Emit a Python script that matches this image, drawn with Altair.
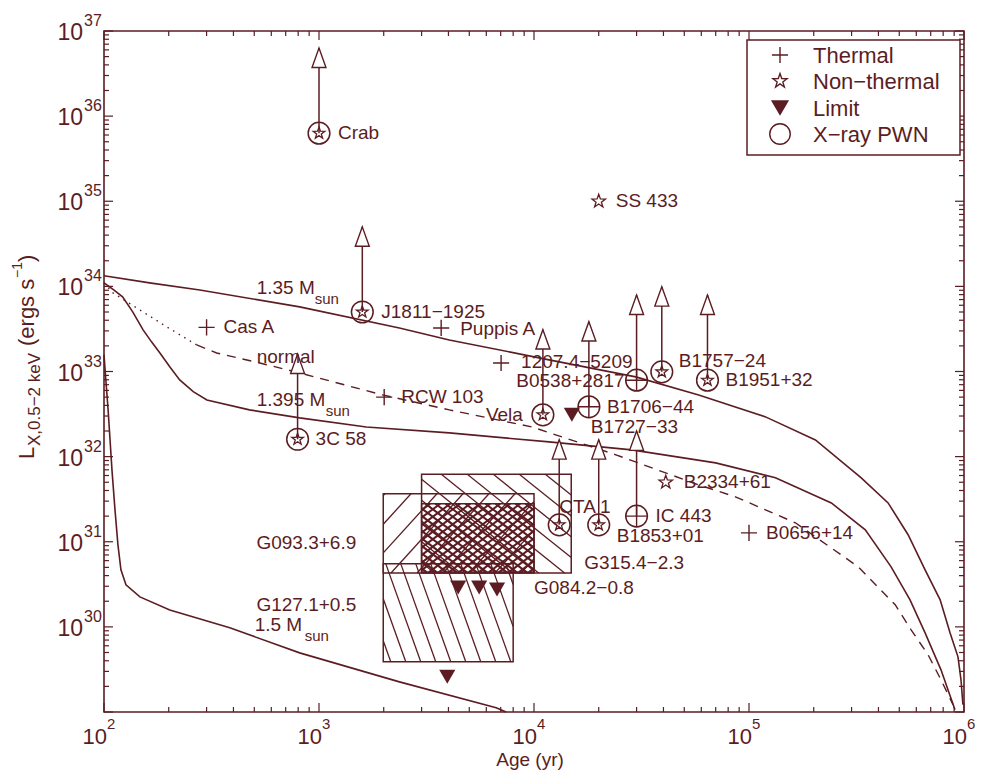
import altair as alt
import pandas as pd
import numpy as np

# ------------------------------------------------------------------ data
src_names = ["Crab", "SS 433", "J1811−1925", "Cas A", "Puppis A", "1207.4−5209",
             "RCW 103", "3C 58", "Vela", "B1706−44", "B0538+2817", "B1757−24",
             "B1951+32", "CTA 1", "B1853+01", "IC 443", "B2334+61", "B0656+14"]
src_age = [1000, 2.0e4, 1590, 300, 3700, 7030, 2010, 795, 1.10e4, 1.80e4, 3.0e4,
           3.93e4, 6.41e4, 1.31e4, 2.0e4, 3.0e4, 4.10e4, 1.0e5]
src_lum = [6.3e35, 1.0e35, 5.0e33, 3.3e33, 3.25e33, 1.26e33, 5.0e32, 1.6e32, 3.1e32,
           3.85e32, 7.9e32, 9.9e32, 7.9e32, 1.58e31, 1.58e31, 2.0e31, 5.0e31, 1.27e31]
src_kind = ["Non-thermal", "Non-thermal", "Non-thermal", "Thermal", "Thermal", "Thermal",
            "Thermal", "Non-thermal", "Non-thermal", "Thermal", "Thermal", "Non-thermal",
            "Non-thermal", "Non-thermal", "Non-thermal", "Thermal", "Non-thermal", "Thermal"]
src_pwn = [1, 0, 1, 0, 0, 0, 0, 1, 1, 1, 1, 1, 1, 1, 1, 1, 0, 0]

lim_names = ["B1727−33", "", "", "", ""]
lim_age = [1.50e4, 4440, 5560, 6730, 3950]
lim_lum = [3.1e32, 2.9e30, 2.9e30, 2.75e30, 2.6e29]

box_names = ["G315.4−2.3", "G093.3+6.9", "G127.1+0.5", "G084.2−0.8"]
box_age0 = [3000, 1990, 1990, 3000]
box_age1 = [1.49e4, 1.0e4, 8000, 1.0e4]
box_lum0 = [4.3e30, 4.3e30, 3.9e29, 4.4e30]
box_lum1 = [6.2e31, 3.66e31, 5.5e30, 2.8e31]

c135_age = [100, 163, 279, 813, 2366, 4036, 11750, 29720, 58340, 119400, 203700, 332700,
            443600, 549500, 659200, 774500, 861000, 937600, 968300, 988600]
c135_lum = [1.33e34, 1.10e34, 9.08e33, 5.74e33, 3.25e33, 2.35e33, 1.37e33, 8.65e32, 5.31e32,
            2.93e32, 1.57e32, 5.64e31, 2.86e31, 1.21e31, 4.68e30, 2.08e30, 8.51e29, 4.45e29,
            2.39e29, 1.22e29]
c1395_age = [100, 111, 122, 136, 152, 167, 182, 203, 225, 260, 301, 475, 813, 1660, 4036,
             11750, 28510, 69980, 132700, 241500, 347500, 458100, 561000, 659200, 781600, 907800]
c1395_lum = [1.10e34, 9.08e33, 7.52e33, 5.01e33, 3.08e33, 2.20e33, 1.65e33, 1.12e33, 7.96e32,
             5.80e32, 4.63e32, 3.54e32, 2.85e32, 2.23e32, 1.90e32, 1.49e32, 1.20e32, 8.45e31,
             5.64e31, 2.86e31, 1.38e31, 5.07e30, 2.08e30, 8.51e29, 3.13e29, 1.06e29]
cnorm_age = [100, 110, 147, 196, 270, 334, 530, 813, 1972, 4036, 9795, 24040, 58340, 86500,
             164400, 322100, 478600, 567500, 680800, 781600, 889200]
cnorm_lum = [1.10e34, 8.38e33, 5.28e33, 3.34e33, 2.05e33, 1.65e33, 1.26e33, 9.62e32, 5.31e32,
             3.54e32, 2.23e32, 1.05e32, 4.66e31, 3.37e31, 1.67e31, 5.07e30, 1.82e30, 9.23e29,
             4.70e29, 2.39e29, 1.22e29]
c15_age = [100, 102, 104.5, 106.7, 108.9, 112.5, 116.1, 119.9, 126.5, 146.9, 202.3, 384.6,
           812.8, 2366, 6668, 7413]
c15_lum = [1.57e33, 7.96e32, 3.54e32, 1.57e32, 6.98e31, 2.37e31, 9.20e30, 4.68e30, 3.12e30,
           2.25e30, 1.58e30, 9.75e29, 4.95e29, 2.26e29, 1.12e29, 1.0e29]

curve_lbl_main = ["1.35 M", "normal", "1.395 M", "1.5 M"]
curve_lbl_sub = ["sun", "", "sun", "sun"]
curve_lbl_age = [513, 513, 513, 502]
curve_lbl_lum = [9.6e33, 1.48e33, 4.63e32, 1.06e30]

legend_labels = ["Thermal", "Non−thermal", "Limit", "X−ray PWN"]
x_tick_exp = [2, 3, 4, 5, 6]
y_tick_exp = [30, 31, 32, 33, 34, 35, 36, 37]

# ------------------------------------------------------------------ style
C = "#5b1d22"
FONT = "Liberation Sans"
W, H = 860, 681
PXD, PYD = W / 4.0, H / 8.0
PLUS = "M-1,0L1,0M0,-1L0,1"
ARROW = "M0,0L0.36,1L-0.36,1Z"
STAR = ("M0,-1L0.235,-0.324L0.951,-0.309L0.380,0.124L0.588,0.809L0,0.4"
        "L-0.588,0.809L-0.380,0.124L-0.951,-0.309L-0.235,-0.324Z")

xs = alt.Scale(type="log", domain=[100, 1e6], nice=False)
ys = alt.Scale(type="log", domain=[1e29, 1e37], nice=False)


def X(f):
    return alt.X(f, type="quantitative", scale=xs, axis=None)


def Y(f):
    return alt.Y(f, type="quantitative", scale=ys, axis=None)


def shift(a, l, dx, dy):
    return float(a * 10 ** (dx / PXD)), float(l * 10 ** (-dy / PYD))


lbl_off = {
    "Crab": (19, 0, "left"), "SS 433": (17, 0, "left"), "J1811−1925": (19, 0, "left"),
    "Cas A": (17, 0, "left"), "Puppis A": (19, 1, "left"), "1207.4−5209": (20, -1, "left"),
    "RCW 103": (17, 0, "left"), "3C 58": (18, 0, "left"), "Vela": (-20, 0, "right"),
    "B1706−44": (18, 0, "left"), "B0538+2817": (-12, 1, "right"), "B1757−24": (17, -11, "left"),
    "B1951+32": (18, 0, "left"), "CTA 1": (0, -18, "left"), "B1853+01": (18, 11, "left"),
    "IC 443": (19, 0, "left"), "B2334+61": (18, 0, "left"), "B0656+14": (17, 0, "left"),
}

src = pd.DataFrame({"name": src_names, "age": src_age, "lum": src_lum,
                    "kind": src_kind, "pwn": src_pwn})
src["tip"] = src["lum"] * 10.0
la, ll, al = [], [], []
for n, a, l in zip(src_names, src_age, src_lum):
    dx, dy, algn = lbl_off[n]
    sa, sl = shift(a, l, dx, dy)
    la.append(sa); ll.append(sl); al.append(algn)
src["la"] = la; src["ll"] = ll; src["al"] = al


def sub(df, mask):
    return df[mask].reset_index(drop=True)


pwn = sub(src, src.pwn == 1)
nonth_pwn = sub(src, (src.kind == "Non-thermal") & (src.pwn == 1))
nonth_free = sub(src, (src.kind == "Non-thermal") & (src.pwn == 0))
therm_pwn = sub(src, (src.kind == "Thermal") & (src.pwn == 1))
therm_free = sub(src, (src.kind == "Thermal") & (src.pwn == 0))

lim = pd.DataFrame({"name": lim_names, "age": lim_age, "lum": lim_lum})
a, l = shift(lim_age[0], lim_lum[0], 19, 12)
lim_lbl = pd.DataFrame({"name": [lim_names[0]], "la": [a], "ll": [l]})

boxes = pd.DataFrame({"name": box_names, "a0": box_age0, "a1": box_age1,
                      "l0": box_lum0, "l1": box_lum1})
bl = []
a, l = shift(box_age1[0], box_lum0[0], 13, -10); bl.append((box_names[0], a, l, "left"))
a, l = shift(box_age0[1], box_lum0[1], -27, -30); bl.append((box_names[1], a, l, "right"))
a, l = shift(box_age0[2], box_lum1[2], -27, 41); bl.append((box_names[2], a, l, "right"))
a, l = shift(box_age1[3], box_lum0[3], 0, 16); bl.append((box_names[3], a, l, "left"))
box_lbl = pd.DataFrame(bl, columns=["name", "la", "ll", "al"])


def hatch(a0, a1, l0, l1, slope, spacing):
    X0, X1 = np.log10(a0) * PXD, np.log10(a1) * PXD
    Y0, Y1 = np.log10(l0) * PYD, np.log10(l1) * PYD
    cs = [Yc - slope * Xc for Xc in (X0, X1) for Yc in (Y0, Y1)]
    step = abs(slope) * spacing
    out = []
    c = min(cs) + step * 0.5
    while c < max(cs):
        xa, xb = sorted([(Y0 - c) / slope, (Y1 - c) / slope])
        xa, xb = max(xa, X0), min(xb, X1)
        if xb > xa:
            out.append((float(10 ** (xa / PXD)), float(10 ** ((slope * xa + c) / PYD)),
                        float(10 ** (xb / PXD)), float(10 ** ((slope * xb + c) / PYD))))
        c += step
    return out


hatch_spec = [(0, -0.8, 26, 1.3), (1, 1.1, 26, 1.3), (2, -2.8, 15, 1.3),
              (3, 0.75, 10, 2.0), (3, -0.75, 10, 2.0)]
hrows = []
for i, s, sp, w in hatch_spec:
    for seg in hatch(box_age0[i], box_age1[i], box_lum0[i], box_lum1[i], s, sp):
        hrows.append(seg + (w,))
hdf = pd.DataFrame(hrows, columns=["xa", "ya", "xb", "yb", "w"])


def cdf(ages, lums):
    return pd.DataFrame({"age": ages, "lum": lums, "o": list(range(len(ages)))})


sub_dx = [58, 0, 69, 50]
sub_rows = []
for m, s, a, l, d in zip(curve_lbl_main, curve_lbl_sub, curve_lbl_age, curve_lbl_lum, sub_dx):
    if s:
        sa, sl = shift(a, l, d, 11)
        sub_rows.append((s, sa, sl))
csub = pd.DataFrame(sub_rows, columns=["s", "a", "l"])
clab = pd.DataFrame({"m": curve_lbl_main, "a": curve_lbl_age, "l": curve_lbl_lum})

# ------------------------------------------------------------------ layers
layers = []
for ages, lums in ((c135_age, c135_lum), (c1395_age, c1395_lum), (c15_age, c15_lum)):
    layers.append(alt.Chart(cdf(ages, lums)).mark_line(color=C, strokeWidth=1.6).encode(
        x=X("age"), y=Y("lum"), order="o:Q"))
layers.append(alt.Chart(cdf(cnorm_age[:5], cnorm_lum[:5])).mark_line(
    color=C, strokeWidth=1.4, strokeDash=[1.5, 5]).encode(x=X("age"), y=Y("lum"), order="o:Q"))
layers.append(alt.Chart(cdf(cnorm_age[4:], cnorm_lum[4:])).mark_line(
    color=C, strokeWidth=1.4, strokeDash=[9, 7]).encode(x=X("age"), y=Y("lum"), order="o:Q"))

layers.append(alt.Chart(hdf).mark_rule(color=C).encode(
    x=X("xa"), y=Y("ya"), x2=alt.X2("xb"), y2=alt.Y2("yb"),
    strokeWidth=alt.StrokeWidth("w:Q", scale=None)))
layers.append(alt.Chart(boxes).mark_rect(fillOpacity=0, stroke=C, strokeWidth=1.5).encode(
    x=X("a0"), x2=alt.X2("a1"), y=Y("l0"), y2=alt.Y2("l1")))

layers.append(alt.Chart(pwn).mark_rule(color=C, strokeWidth=1.5).encode(
    x=X("age"), y=Y("lum"), y2=alt.Y2("tip")))
layers.append(alt.Chart(pwn).mark_point(shape=ARROW, size=1500, filled=True, fill="white",
                                        stroke=C, strokeWidth=1.4, opacity=1).encode(
    x=X("age"), y=Y("tip")))

layers.append(alt.Chart(pwn).mark_point(shape="circle", size=470, filled=False, color=C,
                                        strokeWidth=1.5, opacity=1).encode(x=X("age"), y=Y("lum")))
layers.append(alt.Chart(nonth_pwn).mark_point(shape=STAR, size=150, filled=False, color=C,
                                              strokeWidth=1.3, opacity=1).encode(x=X("age"), y=Y("lum")))
layers.append(alt.Chart(nonth_free).mark_point(shape=STAR, size=200, filled=False, color=C,
                                               strokeWidth=1.3, opacity=1).encode(x=X("age"), y=Y("lum")))
layers.append(alt.Chart(therm_pwn).mark_point(shape=PLUS, size=470, filled=False, color=C,
                                              strokeWidth=1.4, opacity=1).encode(x=X("age"), y=Y("lum")))
layers.append(alt.Chart(therm_free).mark_point(shape=PLUS, size=260, filled=False, color=C,
                                               strokeWidth=1.4, opacity=1).encode(x=X("age"), y=Y("lum")))
layers.append(alt.Chart(lim).mark_point(shape="triangle-down", size=260, filled=True, color=C,
                                        opacity=1).encode(x=X("age"), y=Y("lum")))

for algn in ("left", "right"):
    d = sub(src, src.al == algn)
    layers.append(alt.Chart(d).mark_text(align=algn, baseline="middle", font=FONT, fontSize=19,
                                         color=C).encode(x=X("la"), y=Y("ll"), text="name:N"))
    d = sub(box_lbl, box_lbl.al == algn)
    layers.append(alt.Chart(d).mark_text(align=algn, baseline="middle", font=FONT, fontSize=19,
                                         color=C).encode(x=X("la"), y=Y("ll"), text="name:N"))
layers.append(alt.Chart(lim_lbl).mark_text(align="left", baseline="middle", font=FONT, fontSize=19,
                                           color=C).encode(x=X("la"), y=Y("ll"), text="name:N"))
layers.append(alt.Chart(clab).mark_text(align="left", baseline="middle", font=FONT, fontSize=19,
                                        color=C).encode(x=X("a"), y=Y("l"), text="m:N"))
layers.append(alt.Chart(csub).mark_text(align="left", baseline="middle", font=FONT, fontSize=15,
                                        color=C).encode(x=X("a"), y=Y("l"), text="s:N"))

# ticks (inward, all four sides)
ymaj = pd.DataFrame({"v": [10.0 ** e for e in range(29, 38)]})
ymin = pd.DataFrame({"v": [k * 10.0 ** e for e in range(29, 37) for k in range(2, 10)]})
xmaj = pd.DataFrame({"v": [10.0 ** e for e in range(2, 7)]})
xmin = pd.DataFrame({"v": [k * 10.0 ** e for e in range(2, 6) for k in range(2, 10)]})
for df, ln in ((ymaj, 9), (ymin, 5)):
    layers.append(alt.Chart(df).mark_rule(color=C, strokeWidth=1.2).encode(
        y=Y("v"), x=alt.value(0), x2=alt.value(ln)))
    layers.append(alt.Chart(df).mark_rule(color=C, strokeWidth=1.2).encode(
        y=Y("v"), x=alt.value(W), x2=alt.value(W - ln)))
for df, ln in ((xmaj, 9), (xmin, 5)):
    layers.append(alt.Chart(df).mark_rule(color=C, strokeWidth=1.2).encode(
        x=X("v"), y=alt.value(H), y2=alt.value(H - ln)))
    layers.append(alt.Chart(df).mark_rule(color=C, strokeWidth=1.2).encode(
        x=X("v"), y=alt.value(0), y2=alt.value(ln)))

ylab = pd.DataFrame({"v": [10.0 ** e for e in y_tick_exp], "e": [str(e) for e in y_tick_exp]})
xlab = pd.DataFrame({"v": [10.0 ** e for e in x_tick_exp], "e": [str(e) for e in x_tick_exp]})
layers.append(alt.Chart(ylab).mark_text(align="right", baseline="middle", font=FONT, fontSize=23,
                                        color=C, dy=2).encode(
    y=Y("v"), x=alt.value(-21), text=alt.value("10")))
layers.append(alt.Chart(ylab).mark_text(align="left", baseline="middle", font=FONT, fontSize=16,
                                        color=C, dy=-10).encode(
    y=Y("v"), x=alt.value(-20), text="e:N"))
layers.append(alt.Chart(xlab).mark_text(align="right", baseline="middle", font=FONT, fontSize=22,
                                        color=C, dx=3).encode(
    x=X("v"), y=alt.value(H + 25), text=alt.value("10")))
layers.append(alt.Chart(xlab).mark_text(align="left", baseline="middle", font=FONT, fontSize=15,
                                        color=C, dx=3).encode(
    x=X("v"), y=alt.value(H + 12), text="e:N"))

one = pd.DataFrame({"k": [0]})
layers.append(alt.Chart(one).mark_text(align="center", baseline="alphabetic", font=FONT, fontSize=19,
                                       color=C).encode(x=alt.value(W / 2 - 4), y=alt.value(H + 54),
                                                       text=alt.value("Age (yr)")))
ytitle = [("L", -77, 428, 22), ("X,0.5−2 keV", -69, 415, 17), ("(ergs s", -77, 315, 22),
          ("−1", -86, 247, 14), (")", -77, 231, 22)]
for t, xx, yy, fs in ytitle:
    layers.append(alt.Chart(one).mark_text(align="left", baseline="middle", font=FONT, fontSize=fs,
                                           color=C, angle=270).encode(
        x=alt.value(xx), y=alt.value(yy), text=alt.value(t)))

layers.append(alt.Chart(one).mark_rect(fill="white", stroke=C, strokeWidth=1.5).encode(
    x=alt.value(643), x2=alt.value(856), y=alt.value(9), y2=alt.value(124)))
leg_y = [24, 50, 77, 103]
leg_shape = [(PLUS, 260, False), (STAR, 220, False), ("triangle-down", 330, True), ("circle", 420, False)]
for lab, yy, (shp, sz, fl) in zip(legend_labels, leg_y, leg_shape):
    layers.append(alt.Chart(one).mark_point(shape=shp, size=sz, filled=fl, color=C, opacity=1,
                                            strokeWidth=1.4).encode(
        x=alt.value(676), y=alt.value(yy)))
    layers.append(alt.Chart(one).mark_text(align="left", baseline="middle", font=FONT, fontSize=22,
                                           color=C).encode(
        x=alt.value(709), y=alt.value(yy + 1), text=alt.value(lab)))

chart = alt.layer(*layers).properties(
    width=W, height=H,
    autosize=alt.AutoSizeParams(type="none"),
    padding={"left": 96, "top": 23, "right": 11, "bottom": 59},
).configure(background="white", view=alt.ViewConfig(stroke=C, strokeWidth=1.6))

chart.save("out.html", embed_options={"renderer": "svg", "actions": False})
